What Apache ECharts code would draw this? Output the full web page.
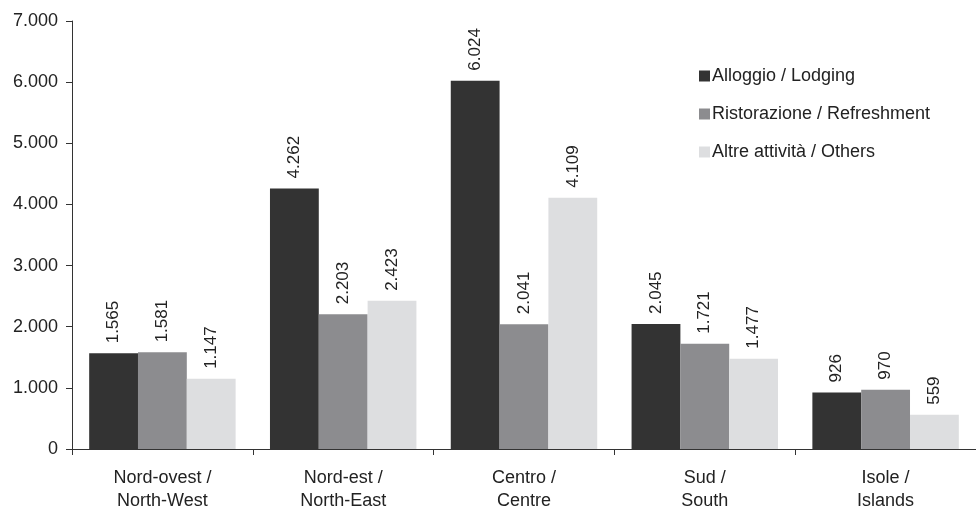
<!DOCTYPE html>
<html><head><meta charset="utf-8">
<script src="https://cdn.jsdelivr.net/npm/echarts@6/dist/echarts.min.js"></script>
<style>html,body{margin:0;padding:0;background:#fff}#c{width:976px;height:509px}</style>
</head><body><div id="c"></div>
<script>
var categories = ['Nord-ovest /\nNorth-West', 'Nord-est /\nNorth-East', 'Centro /\nCentre', 'Sud /\nSouth', 'Isole /\nIslands'];
var seriesNames = ['Alloggio / Lodging', 'Ristorazione / Refreshment', 'Altre attività / Others'];
var lodging = [1565, 4262, 6024, 2045, 926];
var refreshment = [1581, 2203, 2041, 1721, 970];
var others = [1147, 2423, 4109, 1477, 559];
var colors = ['#333333', '#8c8c8f', '#dddee0'];

function fmt(v) { return String(v).replace(/\B(?=(\d{3})+(?!\d))/g, '.'); }
var font = 'Liberation Sans, Arial, sans-serif';
var chart = echarts.init(document.getElementById('c'), null, {renderer: 'canvas'});
function mk(name, data, i) {
  return {
    name: name, type: 'bar', data: data, barGap: '0%', barCategoryGap: '19%',
    itemStyle: {color: colors[i]},
    label: {show: true, position: 'top', rotate: 90, align: 'left', verticalAlign: 'middle',
      distance: 10, fontFamily: font, fontSize: 17, color: '#222',
      formatter: function (p) { return fmt(p.value); }}
  };
}
chart.setOption({
  animation: false,
  grid: {left: 72, right: 0, top: 21, bottom: 60, containLabel: false, outerBoundsMode: 'none'},
  legend: {
    orient: 'vertical', left: 694, top: 62, itemGap: 20, itemWidth: 11, itemHeight: 11,
    icon: 'rect', textStyle: {fontFamily: font, fontSize: 18, color: '#222', padding: [0,0,0,-3]},
    data: seriesNames
  },
  xAxis: {
    type: 'category', data: categories,
    axisLine: {lineStyle: {color: '#333', width: 1}},
    axisTick: {show: true, length: 6, lineStyle: {color: '#333'}},
    axisLabel: {fontFamily: font, fontSize: 18, color: '#222', lineHeight: 23, margin: 18}
  },
  yAxis: {
    type: 'value', min: 0, max: 7000, interval: 1000,
    axisLine: {show: true, lineStyle: {color: '#333', width: 1}},
    axisTick: {show: true, length: 6, lineStyle: {color: '#333'}},
    splitLine: {show: false},
    axisLabel: {fontFamily: font, fontSize: 18, color: '#222', margin: 14, formatter: function (v) { return fmt(v); }}
  },
  series: [mk(seriesNames[0], lodging, 0), mk(seriesNames[1], refreshment, 1), mk(seriesNames[2], others, 2)]
});
</script></body></html>
